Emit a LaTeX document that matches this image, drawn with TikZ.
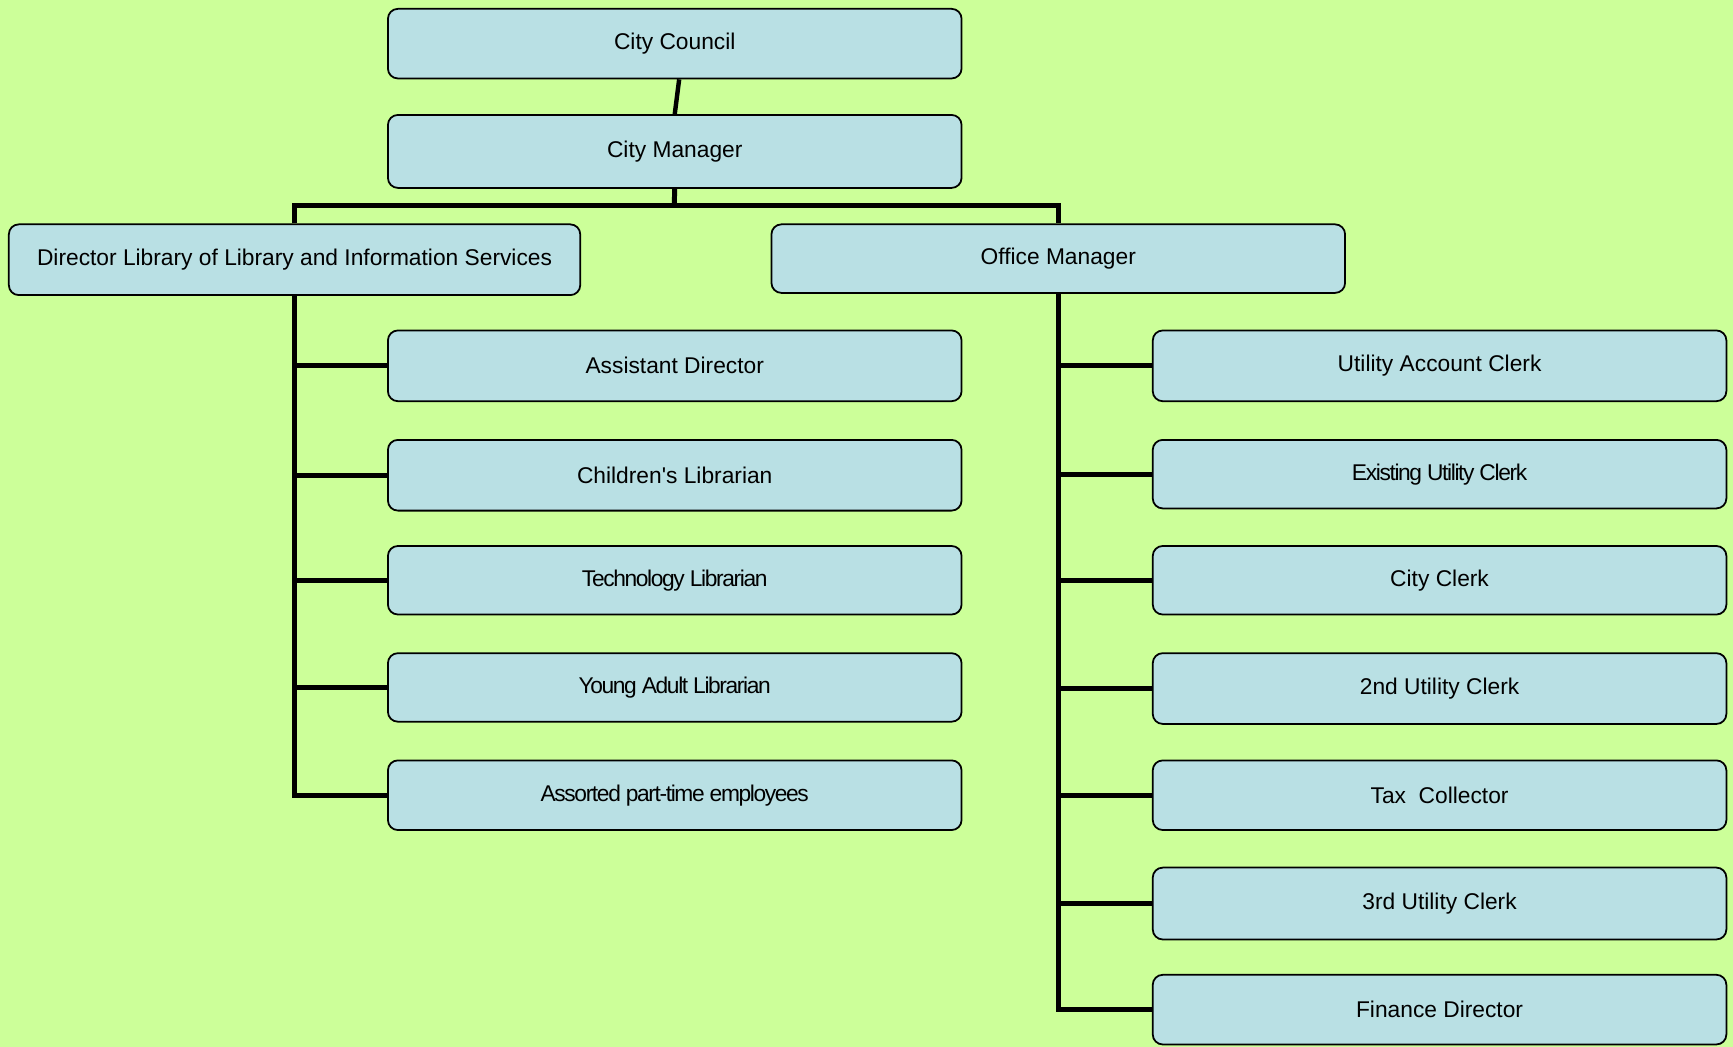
\documentclass[tikz,border=0pt]{standalone}
\usepackage{fontspec}
\setmainfont{Liberation Sans}
\usetikzlibrary{calc}
\definecolor{bg}{HTML}{CCFF99}
\definecolor{boxfill}{HTML}{B9E0E4}
\newcommand{\tight}[1]{{\addfontfeature{LetterSpace=-6}#1}}
\tikzset{
  orgbox/.style={draw=black, line width=1.6pt, fill=boxfill, rounded corners=9pt,
    minimum width=519pt, inner sep=0pt, font=\fontsize{20.6}{24}\selectfont, text=black},
  link/.style={line width=4.5pt, draw=black}
}
\begin{document}
\begin{tikzpicture}[x=1pt,y=-1pt]
\fill[bg] (0,0) rectangle (1568,947);
\useasboundingbox (0,0) rectangle (1568,947);
% connectors (drawn first, boxes on top)
\coordinate (bar) at (610,186);
\coordinate (ccs) at (615,71);
\coordinate (cmn) at (611,104);
\coordinate (cms) at (610,170);
\coordinate (dirn) at (266,203);
\coordinate (dirs) at (266,267);
\coordinate (omn) at (958,203);
\coordinate (oms) at (958,265);
% top chain
\node[orgbox, minimum height=63pt] (cc) at (610.5,39.5) {City Council};
\node[orgbox, minimum height=66pt] (cm) at (610.5,137) {City Manager};
\node[orgbox, minimum width=517pt, minimum height=64pt] (dir) at (266.5,235) {Director Library of Library and Information Services};
\node[orgbox, minimum height=62pt] (om) at (957.5,234) {Office Manager};
% left children
\node[orgbox, minimum height=64pt] (l1) at (610.5,331) {Assistant Director};
\node[orgbox, minimum height=64pt] (l2) at (610.5,430) {Children\textquotesingle s Librarian};
\node[orgbox, minimum height=62pt] (l3) at (610.5,525) {\tight{Technology Librarian}};
\node[orgbox, minimum height=62pt] (l4) at (610.5,622) {\tight{Young Adult Librarian}};
\node[orgbox, minimum height=63pt] (l5) at (610.5,719.5) {\tight{Assorted part-time employees}};
% right children
\node[orgbox, minimum height=64pt] (r1) at (1302.5,331) {Utility Account Clerk};
\node[orgbox, minimum height=62pt] (r2) at (1302.5,429) {\tight{Existing Utility Clerk}};
\node[orgbox, minimum height=62pt] (r3) at (1302.5,525) {City Clerk};
\node[orgbox, minimum height=64pt] (r4) at (1302.5,623) {2nd Utility Clerk};
\node[orgbox, minimum height=63pt] (r5) at (1302.5,719.5) {Tax\ \ Collector};
\node[orgbox, minimum height=65pt] (r6) at (1302.5,817.5) {3rd Utility Clerk};
\node[orgbox, minimum height=63pt] (r7) at (1302.5,913.5) {Finance Director};
% connectors
\draw[link, line width=4pt] ($(cc.south)+(4,0)$) -- (cm.north);
\draw[link] (cm.south) -- (bar);
\draw[link] (dir.north) |- (bar) -| (om.north);
\foreach \c in {l1,l2,l3,l4,l5} \draw[link] (dir.south) |- (\c.west);
\foreach \c in {r1,r2,r3,r4,r5,r6,r7} \draw[link] (om.south) |- (\c.west);
\end{tikzpicture}
\end{document}
